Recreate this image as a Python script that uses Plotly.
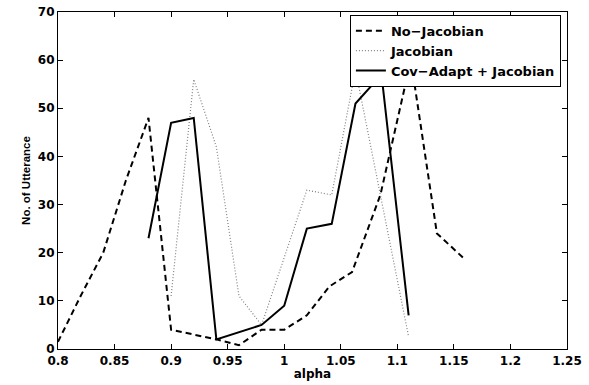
import plotly.graph_objects as go

# No-Jacobian (dashed)
nj_x = [0.80, 0.82, 0.84, 0.86, 0.88, 0.90, 0.94, 0.96, 0.98, 1.00, 1.02, 1.04, 1.06, 1.085, 1.112, 1.135, 1.158]
nj_y = [1.5, 11, 20, 35, 48, 4, 2, 0.8, 4, 4, 7, 13, 16, 32, 60, 24, 19]

# Jacobian (dotted)
j_x = [0.90, 0.92, 0.94, 0.96, 0.98, 1.02, 1.042, 1.063, 1.11]
j_y = [11, 56, 42, 11, 5, 33, 32, 58, 2.5]

# Cov-Adapt + Jacobian (solid)
c_x = [0.88, 0.90, 0.92, 0.94, 0.98, 1.00, 1.02, 1.042, 1.063, 1.086, 1.11]
c_y = [23, 47, 48, 2, 5, 9, 25, 26, 51, 57, 7]

x_ticks = [0.8, 0.85, 0.9, 0.95, 1.0, 1.05, 1.1, 1.15, 1.2, 1.25]
x_tick_text = ["0.8", "0.85", "0.9", "0.95", "1", "1.05", "1.1", "1.15", "1.2", "1.25"]
y_ticks = [0, 10, 20, 30, 40, 50, 60, 70]

fig = go.Figure()
fig.add_trace(go.Scatter(x=nj_x, y=nj_y, mode="lines", name="No\u2212Jacobian",
                         line=dict(color="black", width=2, dash="6px,4px")))
fig.add_trace(go.Scatter(x=j_x, y=j_y, mode="lines", name="Jacobian",
                         line=dict(color="#808080", width=1.2, dash="1px,2px")))
fig.add_trace(go.Scatter(x=c_x, y=c_y, mode="lines", name="Cov\u2212Adapt + Jacobian",
                         line=dict(color="black", width=2)))

wide = "DejaVu Sans, sans-serif"
narrow = "Liberation Sans, Arial, sans-serif"

fig.update_layout(
    width=589, height=385,
    margin=dict(l=58, r=22, t=12, b=36),
    paper_bgcolor="white", plot_bgcolor="white",
    font=dict(family=wide, color="black", size=12),
    showlegend=True,
    legend=dict(x=0.988, y=0.992, xanchor="right", yanchor="top",
                bgcolor="white", bordercolor="black", borderwidth=1,
                font=dict(family=wide, size=13, weight="bold", color="black"),
                itemwidth=30, tracegroupgap=0),
    xaxis=dict(range=[0.8, 1.25], tickvals=x_ticks, ticktext=x_tick_text,
               ticks="inside", ticklen=5, tickcolor="black",
               showline=True, linecolor="black", linewidth=1.2, mirror="ticks",
               showgrid=False, zeroline=False, automargin=False,
               tickfont=dict(family=wide, size=12, weight="bold"),
               title=dict(text="alpha", standoff=0,
                          font=dict(family=wide, size=12, weight="bold"))),
    yaxis=dict(range=[0, 70], tickvals=y_ticks,
               ticks="inside", ticklen=5, tickcolor="black",
               showline=True, linecolor="black", linewidth=1.2, mirror="ticks",
               showgrid=False, zeroline=False, automargin=False,
               tickfont=dict(family=wide, size=12, weight="bold"),
               title=dict(text="No. of Utterance", standoff=4,
                          font=dict(family=narrow, size=11.5, weight="bold"))),
)

fig.write_html("out.html", config={"displayModeBar": False},
               post_script="document.body.style.margin='0';")
